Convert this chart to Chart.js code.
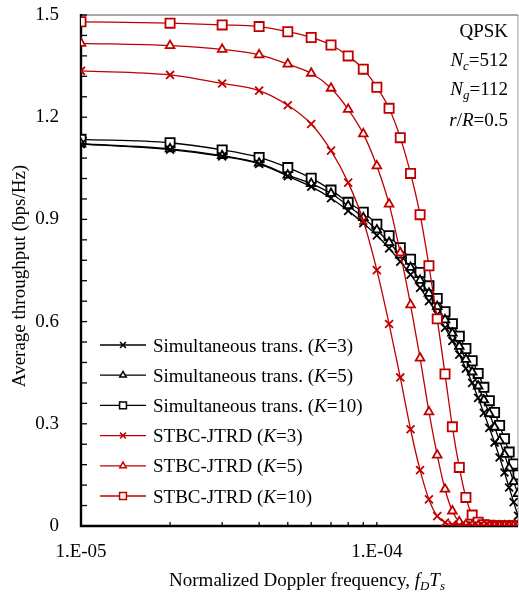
<!DOCTYPE html>
<html>
<head>
<meta charset="utf-8">
<script src="https://cdn.jsdelivr.net/npm/chart.js@4.4.1/dist/chart.umd.min.js"></script>
<style>
  html, body { margin: 0; padding: 0; background: #fff; }
  #wrap { width: 519px; height: 593px; }
</style>
</head>
<body>
<div id="wrap"><canvas id="chart" width="519" height="593"></canvas></div>
<script>
// normalized Doppler frequency f_D T_s
const xValues = [1e-5, 2e-5, 3e-5, 4e-5, 5e-5, 6e-5, 7e-5, 8e-5, 9e-5, 1e-4,
                 1.1e-4, 1.2e-4, 1.3e-4, 1.4e-4, 1.5e-4, 1.6e-4, 1.7e-4, 1.8e-4, 1.9e-4, 2e-4,
                 2.1e-4, 2.2e-4, 2.3e-4, 2.4e-4, 2.5e-4, 2.6e-4, 2.7e-4, 2.8e-4, 2.9e-4, 3e-4];

// average throughput (bps/Hz)
const simK3 = [1.121, 1.105, 1.085, 1.063, 1.027, 0.996, 0.962, 0.925, 0.889, 0.853,
               0.815, 0.776, 0.738, 0.699, 0.660, 0.621, 0.582, 0.543, 0.503, 0.462,
               0.420, 0.376, 0.332, 0.288, 0.245, 0.201, 0.157, 0.113, 0.070, 0.030];
const simK5 = [1.122, 1.107, 1.087, 1.065, 1.030, 1.005, 0.976, 0.940, 0.905, 0.869,
               0.832, 0.795, 0.759, 0.721, 0.683, 0.644, 0.605, 0.566, 0.527, 0.489,
               0.452, 0.411, 0.370, 0.330, 0.290, 0.250, 0.210, 0.170, 0.130, 0.095];
const simK10 = [1.135, 1.125, 1.104, 1.082, 1.052, 1.021, 0.986, 0.950, 0.921, 0.886,
                0.852, 0.817, 0.783, 0.744, 0.705, 0.668, 0.629, 0.594, 0.557, 0.521,
                0.485, 0.448, 0.407, 0.368, 0.333, 0.295, 0.256, 0.217, 0.182, 0.150];
const stbcK3 = [1.336, 1.324, 1.299, 1.278, 1.235, 1.180, 1.102, 1.008, 0.896, 0.751,
                0.593, 0.436, 0.284, 0.164, 0.078, 0.029, 0.010, 0.004, 0.002, 0.001,
                0.001, 0, 0, 0, 0, 0, 0, 0, 0, 0];
const stbcK5 = [1.417, 1.410, 1.399, 1.383, 1.356, 1.329, 1.285, 1.223, 1.151, 1.057,
                0.945, 0.802, 0.649, 0.493, 0.335, 0.208, 0.108, 0.044, 0.012, 0.004,
                0.002, 0.001, 0.001, 0, 0, 0, 0, 0, 0, 0];
const stbcK10 = [1.480, 1.476, 1.471, 1.466, 1.451, 1.434, 1.412, 1.380, 1.341, 1.288,
                 1.226, 1.140, 1.035, 0.914, 0.764, 0.608, 0.446, 0.291, 0.172, 0.084,
                 0.032, 0.011, 0.004, 0.002, 0.001, 0.001, 0.001, 0.001, 0.001, 0.001];

const seriesNames = ['Simultaneous trans. (', 'Simultaneous trans. (', 'Simultaneous trans. (',
                     'STBC-JTRD (', 'STBC-JTRD (', 'STBC-JTRD ('];
const seriesK = ['3', '5', '10', '3', '5', '10'];

// axis ticks
const xTickValues = [1e-5, 2e-5, 3e-5, 4e-5, 5e-5, 6e-5, 7e-5, 8e-5, 9e-5, 1e-4];
const xTickLabels = ['1.E-05', '', '', '', '', '', '', '', '', '1.E-04'];
const yTickValues = [0, 0.06, 0.12, 0.18, 0.24, 0.3, 0.36, 0.42, 0.48, 0.54, 0.6, 0.66, 0.72, 0.78, 0.84,
                     0.9, 0.96, 1.02, 1.08, 1.14, 1.2, 1.26, 1.32, 1.38, 1.44, 1.5];
const yTickLabels = ['0', '0.3', '0.6', '0.9', '1.2', '1.5'];

const FONT = '"Liberation Serif", "Times New Roman", serif';
const RED = '#C00000';
const BLACK = '#000000';

function pts(arr) {
    return arr.map((v, i) => ({ x: xValues[i], y: v }));
}

function makeSet(i, data, color, style, r) {
    return {
        label: seriesNames[i] + 'K=' + seriesK[i] + ')',
        data: pts(data),
        borderColor: color,
        borderWidth: 1.3,
        pointStyle: style,
        pointRadius: r,
        pointBorderWidth: 1.8,
        pointBorderColor: color,
        pointBackgroundColor: '#fff',
        cubicInterpolationMode: 'monotone',
        order: color === RED ? 0 : 1,
        fill: false
    };
}

const datasets = [
    makeSet(0, simK3, BLACK, 'crossRot', 5.6),
    makeSet(1, simK5, BLACK, 'triangle', 5),
    makeSet(2, simK10, BLACK, 'rect', 6.5),
    makeSet(3, stbcK3, RED, 'crossRot', 5.6),
    makeSet(4, stbcK5, RED, 'triangle', 5),
    makeSet(5, stbcK10, RED, 'rect', 6.5)
];

// text with italic / subscript parts
function richText(ctx, parts, x, y, align, size) {
    const fonts = parts.map(p => {
        const it = p[1].indexOf('i') >= 0;
        const sub = p[1].indexOf('sub') >= 0;
        return (it ? 'italic ' : '') + (sub ? size * 0.68 : size) + 'px ' + FONT;
    });
    let total = 0;
    const widths = parts.map((p, i) => {
        ctx.font = fonts[i];
        const w = ctx.measureText(p[0]).width;
        total += w;
        return w;
    });
    let cx = align === 'right' ? x - total : align === 'center' ? x - total / 2 : x;
    ctx.textAlign = 'left';
    ctx.textBaseline = 'alphabetic';
    parts.forEach((p, i) => {
        ctx.font = fonts[i];
        const sub = p[1].indexOf('sub') >= 0;
        ctx.fillText(p[0], cx, y + (sub ? size * 0.22 : 0));
        cx += widths[i];
    });
}

const frame = {
    id: 'frame',
    beforeDatasetsDraw(chart) {
        const { ctx, chartArea: a, scales } = chart;
        ctx.save();
        // top + right border
        ctx.strokeStyle = '#555';
        ctx.lineWidth = 1.2;
        ctx.beginPath();
        ctx.moveTo(a.left, a.top);
        ctx.lineTo(a.right, a.top);
        ctx.stroke();
        ctx.strokeStyle = '#999';
        ctx.lineWidth = 1;
        ctx.beginPath();
        ctx.moveTo(a.right, a.top);
        ctx.lineTo(a.right, a.bottom);
        ctx.stroke();
        // inward tick marks
        ctx.strokeStyle = '#000';
        ctx.lineWidth = 1.3;
        scales.y.ticks.forEach(t => {
            const py = scales.y.getPixelForValue(t.value);
            ctx.beginPath();
            ctx.moveTo(a.left, py);
            ctx.lineTo(a.left + 6, py);
            ctx.stroke();
        });
        scales.x.ticks.forEach(t => {
            const px = scales.x.getPixelForValue(t.value);
            ctx.beginPath();
            ctx.moveTo(px, a.bottom);
            ctx.lineTo(px, a.bottom - 4);
            ctx.stroke();
        });
        // left + bottom axis lines
        ctx.lineWidth = 2.4;
        ctx.beginPath();
        ctx.moveTo(a.left, a.top - 1);
        ctx.lineTo(a.left, a.bottom);
        ctx.lineTo(a.right, a.bottom);
        ctx.stroke();
        ctx.restore();
    },
    afterDraw(chart) {
        const { ctx } = chart;
        ctx.save();
        ctx.fillStyle = '#000';

        // axis titles
        richText(ctx, [['Normalized Doppler frequency, ', ''], ['f', 'i'], ['D', 'isub'], ['T', 'i'], ['s', 'isub']],
            307, 586, 'center', 19);
        ctx.save();
        ctx.translate(25, 276);
        ctx.rotate(-Math.PI / 2);
        richText(ctx, [['Average throughput (bps/Hz)', '']], 0, 0, 'center', 19);
        ctx.restore();

        // parameters
        richText(ctx, [['QPSK', '']], 508, 37, 'right', 19);
        richText(ctx, [['N', 'i'], ['c', 'isub'], ['=512', '']], 508, 66, 'right', 19);
        richText(ctx, [['N', 'i'], ['g', 'isub'], ['=112', '']], 508, 95, 'right', 19);
        richText(ctx, [['r', 'i'], ['/', ''], ['R', 'i'], ['=0.5', '']], 508, 126, 'right', 19);

        // legend
        chart.data.datasets.forEach((ds, i) => {
            const y = 345 + i * 30.2;
            ctx.strokeStyle = ds.borderColor;
            ctx.lineWidth = 1.3;
            ctx.beginPath();
            ctx.moveTo(100, y);
            ctx.lineTo(146, y);
            ctx.stroke();
            ctx.fillStyle = '#fff';
            ctx.lineWidth = 1.5;
            Chart.helpers.drawPoint(ctx, {
                pointStyle: ds.pointStyle,
                radius: ds.pointRadius * 0.75,
                rotation: 0,
                borderWidth: 1.5
            }, 123, y);
            ctx.fillStyle = '#000';
            richText(ctx, [[seriesNames[i], ''], ['K', 'i'], ['=' + seriesK[i] + ')', '']], 153, y + 6.5, 'left', 19);
        });
        ctx.restore();
    }
};

Chart.defaults.font.family = FONT;
Chart.defaults.font.size = 19;
Chart.defaults.color = '#000';

new Chart(document.getElementById('chart'), {
    type: 'line',
    data: { datasets },
    options: {
        responsive: false,
        animation: false,
        layout: { autoPadding: false, padding: { top: 15, right: 1, left: 0, bottom: 0 } },
        plugins: { legend: { display: false }, tooltip: { enabled: false } },
        scales: {
            x: {
                type: 'logarithmic',
                min: 1e-5,
                max: 3e-4,
                grid: { display: false },
                border: { display: false },
                afterBuildTicks: s => { s.ticks = xTickValues.map(v => ({ value: v })); },
                afterFit: s => { s.height = 67; s.paddingLeft = 0; s.paddingRight = 0; },
                ticks: {
                    autoSkip: false,
                    maxRotation: 0,
                    padding: 7,
                    callback: (v, i) => xTickLabels[i] || ''
                }
            },
            y: {
                min: 0,
                max: 1.5,
                grid: { display: false },
                border: { display: false },
                afterBuildTicks: s => { s.ticks = yTickValues.map(v => ({ value: v })); },
                afterFit: s => { s.width = 81; s.paddingTop = 0; s.paddingBottom = 0; },
                ticks: {
                    autoSkip: false,
                    padding: 14,
                    callback: (v, i) => (i % 5 === 0 ? yTickLabels[i / 5] : '')
                }
            }
        }
    },
    plugins: [frame]
});
</script>
</body>
</html>
